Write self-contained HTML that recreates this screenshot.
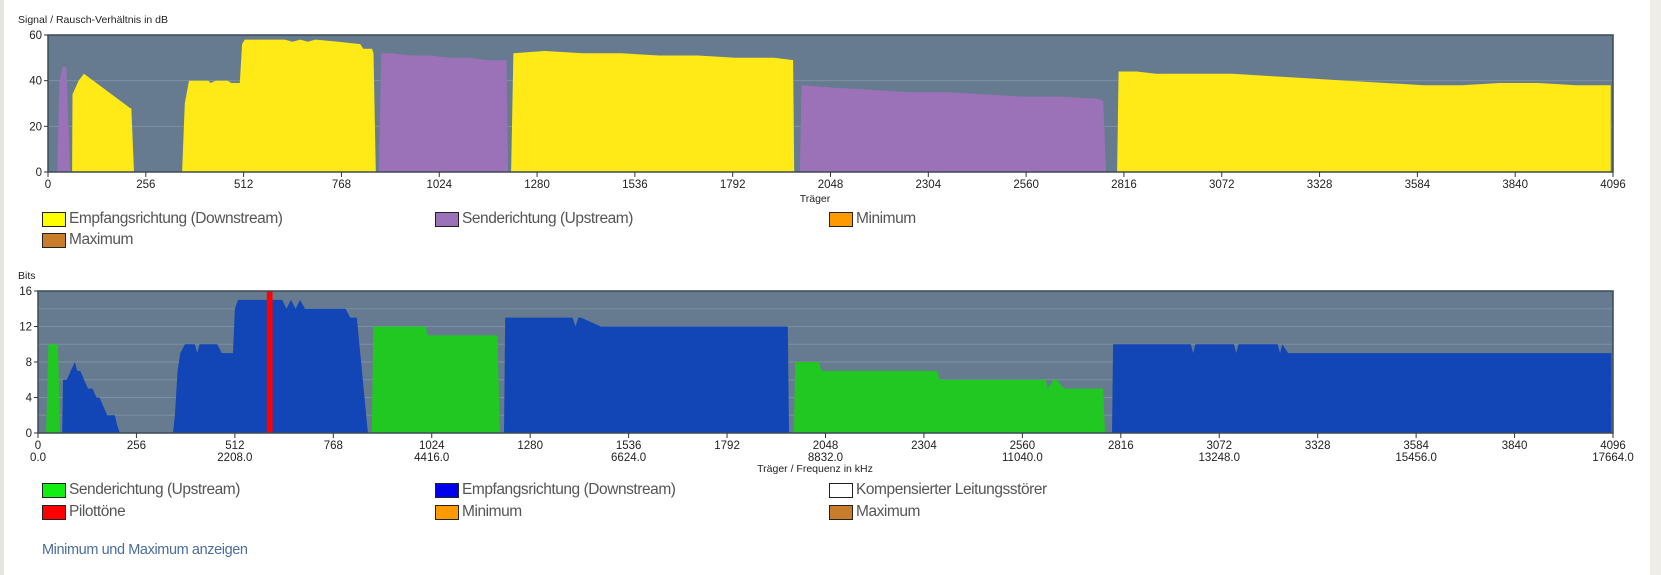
<!DOCTYPE html>
<html><head><meta charset="utf-8">
<style>
body{margin:0;width:1661px;height:575px;background:#fff;position:relative;overflow:hidden;font-family:"Liberation Sans Narrow","Liberation Sans",sans-serif;}
.lstrip{position:absolute;left:0;top:0;width:4px;height:575px;background:#e6e4de;}
.rstrip{position:absolute;left:1650px;top:0;width:11px;height:575px;background:#efede8;}
.leg{position:absolute;font-size:15.5px;letter-spacing:-0.45px;color:#555;display:flex;align-items:center;white-space:nowrap;}
.sw{width:22px;height:13px;border:1px solid #222;margin-right:3px;}
.link{position:absolute;left:42px;top:542px;font-size:14.5px;letter-spacing:-0.4px;color:#4a6d9c;}
svg text{font-family:"Liberation Sans",sans-serif;fill:#222;}
</style></head><body>
<div class="lstrip"></div>
<div class="rstrip"></div>
<svg id="c" width="1661" height="575" style="position:absolute;left:0;top:0"></svg>

<div class="leg" style="left:42px;top:210px"><div class="sw" style="background:#ffff00"></div>Empfangsrichtung (Downstream)</div>
<div class="leg" style="left:435px;top:210px"><div class="sw" style="background:#9b72b8"></div>Senderichtung (Upstream)</div>
<div class="leg" style="left:829px;top:210px"><div class="sw" style="background:#ff9900"></div>Minimum</div>
<div class="leg" style="left:42px;top:231px"><div class="sw" style="background:#c87d2a"></div>Maximum</div>

<div class="leg" style="left:42px;top:481px"><div class="sw" style="background:#11ee11"></div>Senderichtung (Upstream)</div>
<div class="leg" style="left:435px;top:481px"><div class="sw" style="background:#0000ee"></div>Empfangsrichtung (Downstream)</div>
<div class="leg" style="left:829px;top:481px"><div class="sw" style="background:#fff"></div>Kompensierter Leitungsstörer</div>
<div class="leg" style="left:42px;top:503px"><div class="sw" style="background:#ff0000"></div>Pilottöne</div>
<div class="leg" style="left:435px;top:503px"><div class="sw" style="background:#ff9900"></div>Minimum</div>
<div class="leg" style="left:829px;top:503px"><div class="sw" style="background:#c87d2a"></div>Maximum</div>
<div class="link">Minimum und Maximum anzeigen</div>

<script>
// ---- SNR chart data (carrier, dB) ----
const snrUp1X=[24,30,38,48,58];
const snrUp1Y=[0,40,46,46,0];
const snrDs1X=[63,64,80,94,215,218,225];
const snrDs1Y=[0,34,40,43,28,28,0];
const snrDs2X=[351,358,369,420,425,440,470,480,502,508,515,560,620,640,660,680,700,760,817,825,848,852,858];
const snrDs2Y=[0,30,40,40,39,40,40,39,39,56,58,58,58,57,58,57,58,57,56,54,54,52,0];
const snrUp2X=[866,872,900,950,1000,1050,1100,1150,1200,1204];
const snrUp2Y=[0,52,52,51,51,50,50,49,49,0];
const snrDs2bX=[1212,1218,1300,1400,1500,1600,1700,1800,1900,1950,1953];
const snrDs2bY=[0,52,53,52,52,51,51,50,50,49,0];
const snrUp3X=[1968,1972,2050,2150,2250,2350,2450,2550,2650,2750,2762,2769];
const snrUp3Y=[0,38,37,36,35,35,34,33,33,32,31,0];
const snrDs3X=[2798,2802,2850,2900,3000,3100,3200,3300,3400,3500,3600,3700,3800,3900,4000,4090];
const snrDs3Y=[0,44,44,43,43,43,42,41,40,39,38,38,39,39,38,38];
const snrTicks=[0,20,40,60];
// ---- Bits chart data (carrier, bits) ----
const bitUp1X=[21,27,33,52,57];
const bitUp1Y=[0,10,10,10,0];
const bitDs1X=[63,65,75,85,96,102,110,120,130,142,152,160,170,180,190,200,205,213];
const bitDs1Y=[0,6,6,7,8,7,7,6,5,5,4,4,3,2,2,2,1,0];
const bitDs2X=[351,356,363,370,382,408,414,420,460,466,478,507,512,520,580,635,646,658,670,682,694,760,800,812,824,829,858];
const bitDs2Y=[0,2,7,9,10,10,9,10,10,10,9,9,14,15,15,15,14,15,14,15,14,14,14,13,13,13,0];
const bitUp2X=[868,872,1008,1014,1195,1201];
const bitUp2Y=[0,12,12,11,11,0];
const bitDs3X=[1212,1215,1390,1398,1405,1412,1464,1950,1953];
const bitDs3Y=[0,13,13,12,13,13,12,12,0];
const bitUp3X=[1966,1969,2030,2038,2338,2345,2620,2627,2640,2650,2668,2770,2775];
const bitUp3Y=[0,8,8,7,7,6,6,5,6,6,5,5,0];
const bitDs4X=[2793,2796,2998,3004,3010,3110,3116,3122,3224,3230,3236,3251,4090,4092];
const bitDs4Y=[0,10,10,9,10,10,9,10,10,9,10,9,9,9];
const pilotX=[595,610];
const bitTicks=[0,4,8,12,16];
const carrierTicks=[0,256,512,768,1024,1280,1536,1792,2048,2304,2560,2816,3072,3328,3584,3840,4096];
const freqTicks=["0.0","2208.0","4416.0","6624.0","8832.0","11040.0","13248.0","15456.0","17664.0"];

const NS="http://www.w3.org/2000/svg";
const svg=document.getElementById('c');
function mk(tag,attrs,parent){const e=document.createElementNS(NS,tag);for(const k in attrs)e.setAttribute(k,attrs[k]);(parent||svg).appendChild(e);return e;}

function drawChart(o){
  const xs=c=>o.x0+(c/4096)*(o.x1-o.x0);
  const ys=v=>o.y1-(v/o.ymax)*(o.y1-o.y0);
  const bg=mk('rect',{x:o.x0,y:o.y0,width:o.x1-o.x0,height:o.y1-o.y0,fill:'#667b8f'});
  
  
  for(let v=o.grid;v<o.ymax;v+=o.grid){
    const g=mk('line',{x1:o.x0,x2:o.x1,y1:ys(v),y2:ys(v),stroke:'#7d90a2','stroke-width':1});
    
    
  }
  o.series.forEach(s=>{
    const pts=s.x.map((c,i)=>xs(c).toFixed(1)+','+ys(s.y[i]).toFixed(1));
    pts.push(xs(s.x[s.x.length-1]).toFixed(1)+','+ys(0));
    pts.unshift(xs(s.x[0]).toFixed(1)+','+ys(0));
    const p=mk('polygon',{points:pts.join(' '),fill:s.color});
    
    
  });
  if(o.pilot){
    const r=mk('rect',{x:xs(o.pilot[0]),y:o.y0,width:xs(o.pilot[1])-xs(o.pilot[0]),height:o.y1-o.y0,fill:'#ff0000'});
    
    
  }
  const fr=mk('rect',{x:o.x0,y:o.y0,width:o.x1-o.x0,height:o.y1-o.y0,fill:'none',stroke:'#3d4a55','stroke-width':1.5});
  
  
  o.yticks.forEach(v=>{
    mk('line',{x1:o.x0-4,x2:o.x0,y1:ys(v),y2:ys(v),stroke:'#333'});
    const t=mk('text',{x:o.x0-6,y:ys(v)+4,'text-anchor':'end','font-size':11.5});
    t.textContent=v;
    
    
  });
  carrierTicks.forEach((c,i)=>{
    mk('line',{x1:xs(c),x2:xs(c),y1:o.y1,y2:o.y1+5,stroke:'#333'});
    const t=mk('text',{x:xs(c),y:o.y1+16,'text-anchor':'middle','font-size':11.5});
    t.textContent=c;
    
    
    if(o.freq && i%2===0){
      const f=mk('text',{x:xs(c),y:o.y1+28,'text-anchor':'middle','font-size':11.5});
      f.textContent=freqTicks[i/2];
      
      
    }
  });
  const yt=mk('text',{x:18,y:o.y0-12,'font-size':10.5});
  yt.textContent=o.ytitle;
  
  
  const xt=mk('text',{x:815,y:o.xtY,'text-anchor':'middle','font-size':10.5});
  xt.textContent=o.xtitle;
  
  
}

drawChart({name:'snr',x0:48,x1:1613,y0:35,y1:172,ymax:60,grid:20,yticks:snrTicks,
  ytitle:'Signal / Rausch-Verhältnis in dB',xtitle:'Träger',xtY:202,
  series:[
    {x:snrUp1X,y:snrUp1Y,color:'#9b72b8',name:'snr-upstream-1'},
    {x:snrDs1X,y:snrDs1Y,color:'#ffea18',name:'snr-downstream-1'},
    {x:snrDs2X,y:snrDs2Y,color:'#ffea18',name:'snr-downstream-2'},
    {x:snrUp2X,y:snrUp2Y,color:'#9b72b8',name:'snr-upstream-2'},
    {x:snrDs2bX,y:snrDs2bY,color:'#ffea18',name:'snr-downstream-3'},
    {x:snrUp3X,y:snrUp3Y,color:'#9b72b8',name:'snr-upstream-3'},
    {x:snrDs3X,y:snrDs3Y,color:'#ffea18',name:'snr-downstream-4'}]});

drawChart({name:'bits',x0:38,x1:1613,y0:291,y1:433,ymax:16,grid:2,yticks:bitTicks,freq:true,pilot:pilotX,
  ytitle:'Bits',xtitle:'Träger / Frequenz in kHz',xtY:472,
  series:[
    {x:bitUp1X,y:bitUp1Y,color:'#22c822',name:'bits-upstream-1'},
    {x:bitDs1X,y:bitDs1Y,color:'#1245b5',name:'bits-downstream-1'},
    {x:bitDs2X,y:bitDs2Y,color:'#1245b5',name:'bits-downstream-2'},
    {x:bitUp2X,y:bitUp2Y,color:'#22c822',name:'bits-upstream-2'},
    {x:bitDs3X,y:bitDs3Y,color:'#1245b5',name:'bits-downstream-3'},
    {x:bitUp3X,y:bitUp3Y,color:'#22c822',name:'bits-upstream-3'},
    {x:bitDs4X,y:bitDs4Y,color:'#1245b5',name:'bits-downstream-4'}]});
</script>
</body></html>
